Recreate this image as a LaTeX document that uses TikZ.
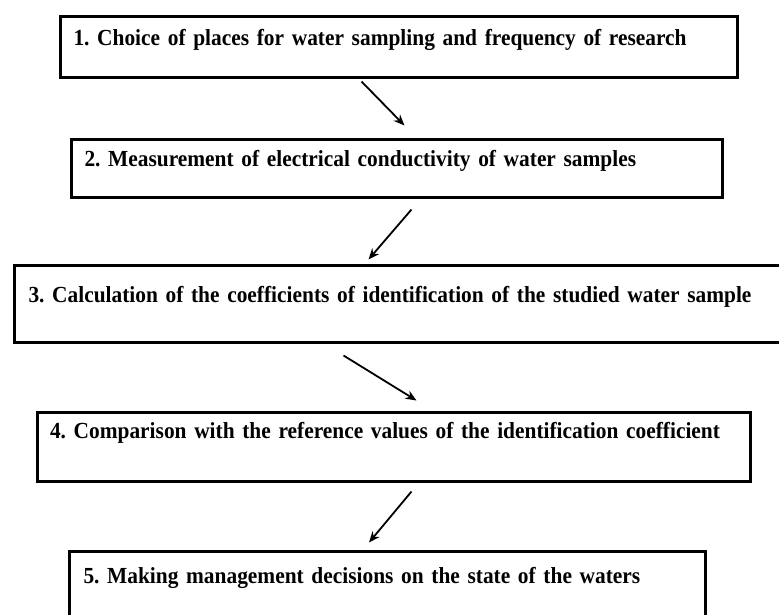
\documentclass[tikz,border=0pt]{standalone}
\usepackage{fontspec}
\setmainfont{Liberation Serif}
\newfontfamily\boxfont[FakeStretch=0.93]{Liberation Serif}
\usetikzlibrary{arrows.meta}

\begin{document}
\frenchspacing
\begin{tikzpicture}[x=1pt, y=-1pt,
  stepbox/.style={draw, line width=3pt, anchor=north west, align=left,
    font=\boxfont\bfseries\fontsize{23}{26}\selectfont, inner ysep=3pt,
    text height=16pt, text depth=19pt},
  flow/.style={line width=1.8pt, -{Stealth[length=11pt, width=9pt]}}]
\useasboundingbox (0,0) rectangle (779,614);
\node[stepbox, minimum width=677, minimum height=61, text width=650] (s1) at (58.5,14.5)
  {1. Choice of places for water sampling and frequency of research};
\node[stepbox, minimum width=651, minimum height=58, text width=624] (s2) at (69.5,137.5)
  {2. Measurement of electrical conductivity of water samples};
\node[stepbox, minimum width=790, minimum height=77, text width=761, inner xsep=7pt] (s3) at (12.5,263.5)
  {3. Calculation of the coefficients of identification of the studied water sample};
\node[stepbox, minimum width=713, minimum height=69, text width=687, inner xsep=12pt, text depth=33pt] (s4) at (35.5,410.5)
  {4. Comparison with the reference values of the identification coefficient};
\node[stepbox, minimum width=636, minimum height=80, text width=607, inner xsep=11pt, text depth=31pt] (s5) at (67.5,549.5)
  {5. Making management decisions on the state of the waters};
\draw[flow] ([shift={(-37,3)}]s1.south) -- ([shift={(8,-12)}]s2.north);
\draw[flow] ([shift={(15,11)}]s2.south) -- ([shift={(356,-4)}]s3.north west);
\draw[flow] ([shift={(331,12)}]s3.south west) -- ([shift={(23,-10)}]s4.north);
\draw[flow] ([shift={(18,9)}]s4.south) -- ([shift={(-18,-7)}]s5.north);
\end{tikzpicture}
\end{document}
